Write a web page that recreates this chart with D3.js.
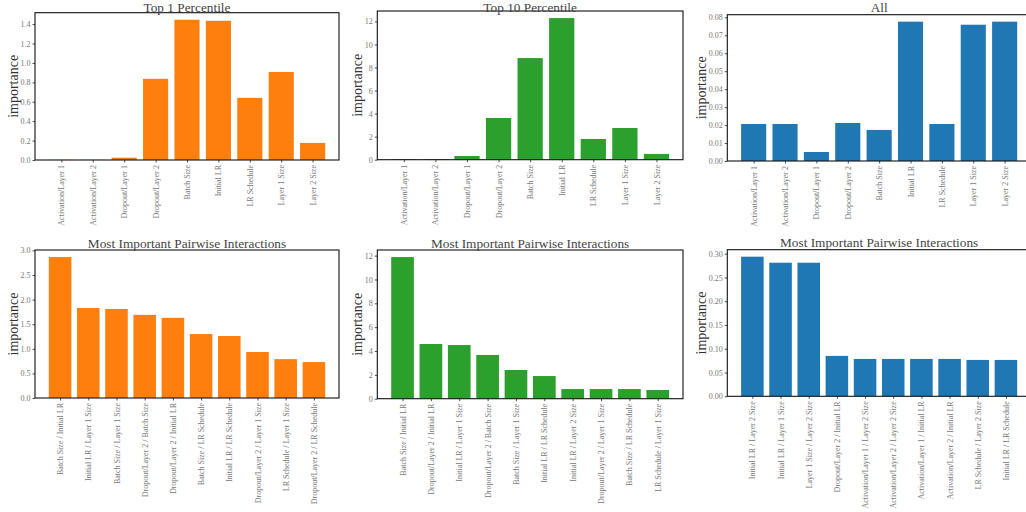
<!DOCTYPE html>
<html>
<head>
<meta charset="utf-8">
<script src="https://cdn.jsdelivr.net/npm/d3@7"></script>
<style>
  html, body { margin: 0; padding: 0; background: #fff; }
  svg { display: block; }
  svg text { font-family: "Liberation Serif", "DejaVu Serif", serif !important; }
</style>
</head>
<body>
<svg id="chart" width="1026" height="512"></svg>
<script>
// ---------- data ----------
const singleParams = ["Activation/Layer 1", "Activation/Layer 2", "Dropout/Layer 1", "Dropout/Layer 2",
  "Batch Size", "Initial LR", "LR Schedule", "Layer 1 Size", "Layer 2 Size"];

const top1Values  = [0.002, 0.002, 0.024, 0.836, 1.445, 1.434, 0.640, 0.907, 0.176];
const top10Values = [0.05, 0.05, 0.32, 3.62, 8.82, 12.29, 1.80, 2.75, 0.50];
const allValues   = [0.0206, 0.0206, 0.0050, 0.0212, 0.0173, 0.0776, 0.0206, 0.0759, 0.0776];

const pairsTop1 = ["Batch Size / Initial LR", "Initial LR / Layer 1 Size", "Batch Size / Layer 1 Size",
  "Dropout/Layer 2 / Batch Size", "Dropout/Layer 2 / Initial LR", "Batch Size / LR Schedule",
  "Initial LR / LR Schedule", "Dropout/Layer 2 / Layer 1 Size", "LR Schedule / Layer 1 Size",
  "Dropout/Layer 2 / LR Schedule"];
const pairsTop1Values = [2.865, 1.83, 1.81, 1.69, 1.63, 1.30, 1.26, 0.935, 0.79, 0.73];

const pairsTop10 = ["Batch Size / Initial LR", "Dropout/Layer 2 / Initial LR", "Initial LR / Layer 1 Size",
  "Dropout/Layer 2 / Batch Size", "Batch Size / Layer 1 Size", "Initial LR / LR Schedule",
  "Initial LR / Layer 2 Size", "Dropout/Layer 2 / Layer 1 Size", "Batch Size / LR Schedule",
  "LR Schedule / Layer 1 Size"];
const pairsTop10Values = [11.88, 4.59, 4.50, 3.67, 2.41, 1.90, 0.81, 0.81, 0.81, 0.73];

const pairsAll = ["Initial LR / Layer 2 Size", "Initial LR / Layer 1 Size", "Layer 1 Size / Layer 2 Size",
  "Dropout/Layer 2 / Initial LR", "Activation/Layer 1 / Layer 2 Size", "Activation/Layer 2 / Layer 2 Size",
  "Activation/Layer 1 / Initial LR", "Activation/Layer 2 / Initial LR", "LR Schedule / Layer 2 Size",
  "Initial LR / LR Schedule"];
const pairsAllValues = [0.2937, 0.281, 0.281, 0.085, 0.0786, 0.0786, 0.0786, 0.0786, 0.0765, 0.0765];

const ticksTop1  = [0.0, 0.2, 0.4, 0.6, 0.8, 1.0, 1.2, 1.4];
const ticksTop10 = [0, 2, 4, 6, 8, 10, 12];
const ticksAll   = [0.00, 0.01, 0.02, 0.03, 0.04, 0.05, 0.06, 0.07, 0.08];
const ticksPairTop1  = [0.0, 0.5, 1.0, 1.5, 2.0, 2.5, 3.0];
const ticksPairTop10 = [0, 2, 4, 6, 8, 10, 12];
const ticksPairAll   = [0.00, 0.05, 0.10, 0.15, 0.20, 0.25, 0.30];

const titles = ["Top 1 Percentile", "Top 10 Percentile", "All",
  "Most Important Pairwise Interactions", "Most Important Pairwise Interactions", "Most Important Pairwise Interactions"];
const yLabel = "importance";

const ORANGE = "#ff7f0e", GREEN = "#2ca02c", BLUE = "#1f77b4";

// ---------- panels ----------
const panels = [
  {box: [35, 12.7, 339, 160],    cats: singleParams, vals: top1Values,  ticks: ticksTop1,  fmt: ".1f", color: ORANGE, title: titles[0]},
  {box: [377.3, 11, 683, 159.7], cats: singleParams, vals: top10Values, ticks: ticksTop10, fmt: "d",   color: GREEN,  title: titles[1]},
  {box: [727.3, 14.7, 1031, 161],cats: singleParams, vals: allValues,   ticks: ticksAll,   fmt: ".2f", color: BLUE,   title: titles[2]},
  {box: [35, 250, 339, 398],     cats: pairsTop1,  vals: pairsTop1Values,  ticks: ticksPairTop1,  fmt: ".1f", color: ORANGE, title: titles[3]},
  {box: [377.3, 250, 683, 398.7],cats: pairsTop10, vals: pairsTop10Values, ticks: ticksPairTop10, fmt: "d",   color: GREEN,  title: titles[4]},
  {box: [727.3, 249.7, 1031, 396.3], cats: pairsAll, vals: pairsAllValues, ticks: ticksPairAll,   fmt: ".2f", color: BLUE,   title: titles[5]}
];

const svg = d3.select("#chart");
const SERIF = "'Liberation Serif', 'DejaVu Serif', serif";

panels.forEach((p, pi) => {
  const [x0, y0, x1, y1] = p.box;
  const n = p.cats.length;
  const m = 0.05 * (n - 0.2);
  const x = d3.scaleLinear().domain([-0.4 - m, n - 0.6 + m]).range([x0, x1]);
  const ymax = d3.max(p.vals) * 1.05;
  const y = d3.scaleLinear().domain([0, ymax]).range([y1, y0]);

  const g = svg.append("g");
  const clipId = "clip" + pi;
  g.append("clipPath").attr("id", clipId)
    .append("rect").attr("x", x0).attr("y", y0).attr("width", x1 - x0).attr("height", y1 - y0);

  g.append("g").attr("clip-path", `url(#${clipId})`)
    .selectAll("rect").data(p.vals).join("rect")
    .attr("x", (d, i) => x(i - 0.4))
    .attr("width", (d, i) => x(i + 0.4) - x(i - 0.4))
    .attr("y", d => y(d))
    .attr("height", d => y(0) - y(d))
    .attr("fill", p.color);

  // x axis
  const xa = g.append("g").attr("transform", `translate(0,${y1})`)
    .call(d3.axisBottom(x).tickValues(d3.range(n)).tickFormat(i => p.cats[i]).tickSize(2.5).tickPadding(2));
  xa.attr("font-family", SERIF);
  xa.select(".domain").remove();
  xa.selectAll(".tick line").attr("stroke", "#222").attr("stroke-width", 0.8);
  xa.selectAll(".tick text")
    .attr("font-size", 8).attr("fill", "#777")
    .style("font-family", SERIF)
    .attr("transform", "rotate(-90)")
    .attr("text-anchor", "end")
    .attr("x", -5).attr("y", 0).attr("dy", "0.32em");

  // y axis
  const ya = g.append("g").attr("transform", `translate(${x0},0)`)
    .call(d3.axisLeft(y).tickValues(p.ticks).tickFormat(d3.format(p.fmt)).tickSize(2.5).tickPadding(2));
  ya.attr("font-family", SERIF);
  ya.select(".domain").remove();
  ya.selectAll(".tick line").attr("stroke", "#222").attr("stroke-width", 0.8);
  ya.selectAll(".tick text").attr("font-size", 8).attr("fill", "#777")
    .style("font-family", SERIF);

  const bb = ya.node().getBBox();
  g.append("text")
    .attr("transform", `translate(${x0 + bb.x - 7},${(y0 + y1) / 2}) rotate(-90)`)
    .attr("text-anchor", "middle")
    .attr("dominant-baseline", "central")
    .attr("font-size", 14).attr("fill", "#333")
    .style("font-family", SERIF)
    .text(yLabel);

  // frame
  g.append("rect").attr("x", x0).attr("y", y0).attr("width", x1 - x0).attr("height", y1 - y0)
    .attr("fill", "none").attr("stroke", "#111").attr("stroke-width", 1.1);

  // title
  g.append("text").attr("x", (x0 + x1) / 2).attr("y", Math.max(y0 - 2.5, 12))
    .attr("text-anchor", "middle").attr("font-size", 13.3).attr("fill", "#444")
    .style("font-family", SERIF)
    .text(p.title);
});
</script>
</body>
</html>
